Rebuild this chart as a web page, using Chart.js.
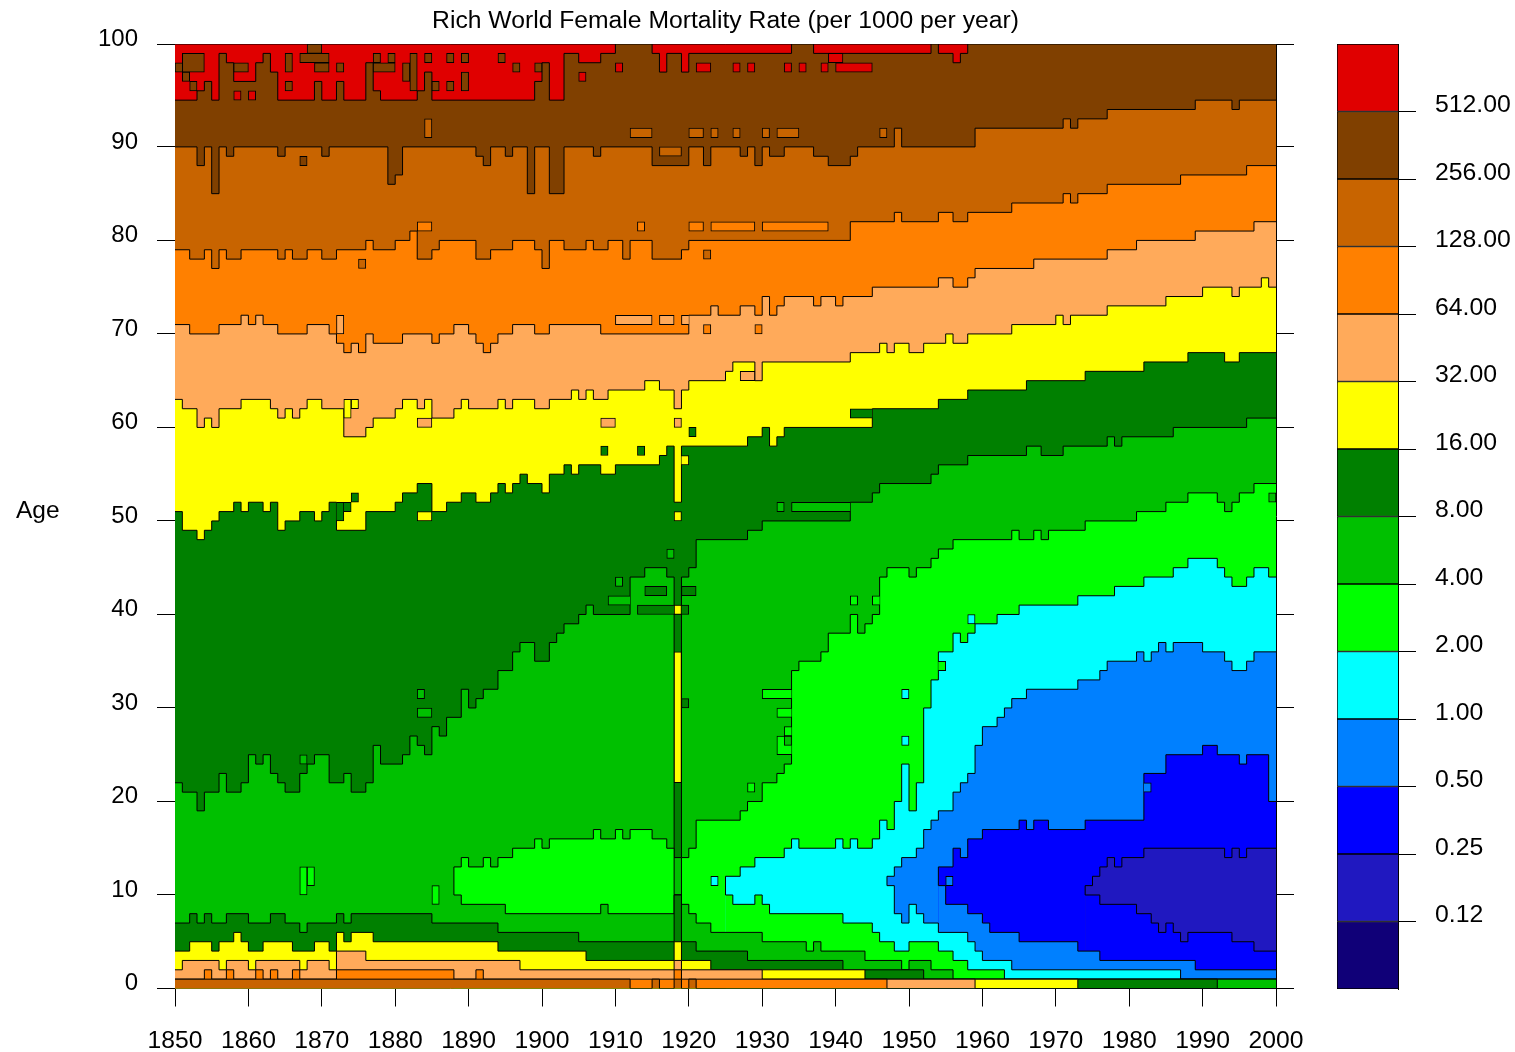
<!DOCTYPE html>
<html><head><meta charset="utf-8">
<style>html,body{margin:0;padding:0;background:#fff;width:1515px;height:1052px;overflow:hidden}
canvas{position:absolute;left:0;top:0}
#age{position:absolute;left:16px;top:496px;font:24.5px "Liberation Sans",Arial,sans-serif;color:#000}</style>
<script src="https://cdn.jsdelivr.net/npm/chart.js@4"></script>
</head><body>
<canvas id="main" width="1515" height="1052"></canvas>
<canvas id="bar" width="1515" height="1052"></canvas>
<div id="age">Age</div>
<script>
// Tick labels
const titleText = 'Rich World Female Mortality Rate (per 1000 per year)';
const yearTicks = [1850,1860,1870,1880,1890,1900,1910,1920,1930,1940,1950,1960,1970,1980,1990,2000];
const ageTicks  = [0,10,20,30,40,50,60,70,80,90,101];
const ageLabels = ['0','10','20','30','40','50','60','70','80','90','100'];
const legendLabels = ['0.12','0.25','0.50','1.00','2.00','4.00','8.00','16.00','32.00','64.00','128.00','256.00','512.00'];
const bandColors = ['#100078','#2018C0','#0000FF','#0080FF','#00FFFF','#00FF00','#00C000','#008000','#FFFF00','#FFAA5A','#FF8000','#C86400','#804000','#E00000'];

// Contours: [first year, age] change points of each level boundary
const cTop = [[1850,101]];
const c512 = [[1850,95],[1853,96],[1854,97],[1855,95],[1856,100],[1857,99],[1858,97],[1861,99],[1862,100],[1863,98],[1864,95],[1869,97],[1870,95],[1872,97],[1873,95],[1876,99],[1877,96],[1878,95],[1883,96],[1884,98],[1885,95],[1899,97],[1900,99],[1901,95],[1903,100],[1905,99],[1908,100],[1910,101],[1915,100],[1916,98],[1917,100],[1919,98],[1920,100],[1934,101],[1937,100],[1953,101],[1954,100],[1956,99],[1957,100],[1958,101]];
const c256 = [[1850,90],[1853,88],[1854,90],[1855,85],[1856,90],[1857,89],[1858,90],[1864,89],[1865,90],[1870,89],[1871,90],[1879,86],[1880,87],[1881,90],[1891,89],[1892,88],[1893,90],[1895,89],[1896,90],[1898,85],[1899,90],[1901,85],[1903,90],[1907,89],[1908,90],[1915,88],[1920,90],[1922,88],[1923,90],[1927,89],[1928,90],[1929,88],[1930,90],[1931,89],[1933,90],[1937,89],[1939,88],[1942,89],[1943,90],[1948,92],[1949,90],[1959,92],[1971,93],[1972,92],[1973,93],[1977,94],[1989,95],[1994,94],[1995,95]];
const c128 = [[1850,79],[1852,78],[1854,79],[1855,77],[1856,79],[1857,78],[1859,79],[1864,78],[1865,79],[1866,78],[1868,79],[1870,78],[1872,79],[1876,80],[1877,79],[1880,80],[1882,81],[1883,78],[1885,79],[1886,80],[1891,78],[1893,79],[1896,80],[1899,79],[1900,77],[1901,80],[1903,79],[1906,80],[1907,79],[1909,80],[1911,78],[1912,80],[1915,78],[1919,79],[1920,80],[1942,82],[1948,83],[1949,82],[1954,83],[1956,82],[1958,83],[1964,84],[1971,85],[1972,84],[1973,85],[1977,86],[1987,87],[1996,88]];
const c64 = [[1850,71],[1852,70],[1856,71],[1859,72],[1860,71],[1861,72],[1862,71],[1864,70],[1868,71],[1871,70],[1872,69],[1873,68],[1874,69],[1875,68],[1876,70],[1877,69],[1881,70],[1885,69],[1886,70],[1888,71],[1890,70],[1891,69],[1892,68],[1893,69],[1894,70],[1896,71],[1899,70],[1901,71],[1908,70],[1920,72],[1923,73],[1924,72],[1927,73],[1929,72],[1930,74],[1931,72],[1932,73],[1933,74],[1937,73],[1938,74],[1940,73],[1941,74],[1945,75],[1954,76],[1956,75],[1958,76],[1959,77],[1967,78],[1977,79],[1981,80],[1989,81],[1997,82]];
const c32 = [[1850,63],[1851,62],[1853,60],[1854,61],[1855,60],[1856,62],[1859,63],[1863,62],[1864,61],[1865,62],[1866,61],[1867,62],[1868,63],[1870,62],[1873,59],[1876,60],[1877,61],[1880,62],[1881,63],[1883,62],[1884,63],[1885,61],[1888,62],[1889,63],[1890,62],[1894,63],[1895,62],[1896,63],[1899,62],[1901,63],[1904,64],[1905,63],[1906,64],[1907,63],[1909,64],[1914,65],[1916,64],[1918,62],[1919,64],[1920,65],[1925,66],[1926,67],[1929,65],[1930,67],[1942,68],[1946,69],[1947,68],[1948,69],[1950,68],[1952,69],[1955,70],[1956,69],[1958,70],[1964,71],[1970,72],[1971,71],[1972,72],[1977,73],[1985,74],[1990,75],[1994,74],[1995,75],[1998,76],[1999,75]];
const c16 = [[1850,51],[1851,49],[1853,48],[1854,49],[1855,50],[1856,51],[1858,52],[1859,51],[1860,52],[1862,51],[1863,52],[1864,49],[1865,50],[1867,51],[1869,50],[1870,51],[1871,52],[1872,49],[1876,51],[1880,52],[1881,53],[1883,54],[1885,51],[1887,52],[1889,53],[1891,52],[1893,53],[1894,54],[1895,53],[1896,54],[1897,55],[1898,54],[1900,53],[1901,55],[1903,56],[1904,55],[1905,56],[1908,55],[1910,56],[1916,57],[1917,58],[1918,52],[1919,58],[1928,59],[1930,60],[1931,58],[1932,59],[1933,60],[1945,62],[1954,63],[1958,64],[1966,65],[1974,66],[1982,67],[1988,68],[1993,67],[1995,68]];
const c8 = [[1850,22],[1851,21],[1853,19],[1854,21],[1856,23],[1857,21],[1859,22],[1860,25],[1861,24],[1862,25],[1863,23],[1864,22],[1865,21],[1867,23],[1868,24],[1869,25],[1871,22],[1873,23],[1874,21],[1876,22],[1877,26],[1878,24],[1881,25],[1882,27],[1883,26],[1884,25],[1885,28],[1886,27],[1887,29],[1889,32],[1890,30],[1891,31],[1892,32],[1894,34],[1896,36],[1897,37],[1899,35],[1901,37],[1902,38],[1903,39],[1905,40],[1906,41],[1907,40],[1912,44],[1914,45],[1917,44],[1918,14],[1919,44],[1920,45],[1921,48],[1928,49],[1930,50],[1942,52],[1945,53],[1946,54],[1953,55],[1954,56],[1958,57],[1966,58],[1968,57],[1971,58],[1977,59],[1978,58],[1979,59],[1986,60],[1996,61]];
const u4 = [[1888,10],[1888,13],[1889,14],[1890,13],[1892,14],[1893,13],[1894,14],[1896,15],[1899,16],[1900,15],[1901,16],[1907,17],[1908,16],[1910,17],[1911,16],[1912,17],[1915,16],[1917,15],[1918,10],[1919,14],[1920,15],[1921,18],[1927,19],[1928,20],[1930,22],[1932,23],[1933,24],[1934,34],[1935,35],[1938,36],[1939,38],[1942,40],[1943,38],[1944,39],[1945,40],[1946,44],[1947,45],[1950,44],[1951,45],[1953,46],[1954,47],[1956,48],[1964,49],[1965,48],[1967,49],[1968,48],[1969,49],[1974,50],[1981,51],[1985,52],[1988,53],[1992,52],[1993,51],[1994,52],[1995,53],[1997,54]];
const u2 = [[1925,10],[1925,12],[1927,13],[1929,14],[1933,15],[1934,16],[1935,15],[1940,16],[1941,15],[1942,16],[1943,15],[1945,16],[1946,18],[1947,17],[1948,20],[1949,24],[1950,19],[1951,22],[1952,30],[1953,33],[1954,36],[1956,38],[1957,37],[1958,38],[1959,39],[1962,40],[1965,41],[1973,42],[1978,43],[1982,44],[1986,45],[1988,46],[1992,45],[1993,44],[1994,43],[1996,44],[1997,45],[1999,44]];
const u1 = [[1947,11],[1947,12],[1948,13],[1949,14],[1951,15],[1952,17],[1953,18],[1954,19],[1956,21],[1957,22],[1958,23],[1959,26],[1960,28],[1962,29],[1963,30],[1964,31],[1966,32],[1973,33],[1976,34],[1977,35],[1981,36],[1982,35],[1983,36],[1984,37],[1985,36],[1986,37],[1990,36],[1993,35],[1994,34],[1996,35],[1997,36]];
const u05 = [[1954,11],[1954,13],[1956,15],[1957,14],[1958,16],[1960,17],[1965,18],[1966,17],[1967,18],[1969,17],[1974,18],[1982,23],[1985,25],[1990,26],[1992,25],[1995,24],[1996,25],[1999,20]];
const u025 = [[1974,10],[1974,11],[1975,12],[1976,13],[1977,14],[1978,13],[1979,14],[1982,15],[1993,14],[1994,15],[1995,14],[1996,15]];
const d025 = [[1974,10],[1976,9],[1981,8],[1983,7],[1984,6],[1985,7],[1986,6],[1987,5],[1988,6],[1994,5],[1997,4]];
const d05 = [[1954,11],[1955,9],[1958,8],[1960,7],[1961,6],[1965,5],[1973,4],[1976,3],[1989,2]];
const d1 = [[1947,11],[1948,8],[1949,7],[1950,9],[1951,8],[1952,7],[1954,6],[1958,5],[1959,4],[1960,3],[1964,2],[1987,1]];
const d2 = [[1925,10],[1926,9],[1929,10],[1930,9],[1931,8],[1941,7],[1945,6],[1946,5],[1948,4],[1950,5],[1954,4],[1956,3],[1958,2],[1963,1]];
const d4 = [[1888,10],[1889,9],[1895,8],[1908,9],[1909,8],[1918,10],[1919,9],[1920,8],[1921,7],[1923,6],[1930,5],[1936,4],[1937,5],[1938,4],[1944,3],[1949,2],[1950,3],[1953,2],[1956,1]];
const d8 = [[1850,7],[1852,8],[1853,7],[1854,8],[1855,7],[1857,8],[1860,7],[1863,8],[1865,7],[1867,6],[1868,7],[1872,8],[1873,7],[1874,8],[1885,7],[1894,6],[1905,5],[1918,10],[1919,5],[1921,4],[1928,3],[1941,2],[1952,1],[1992,0]];
const d16 = [[1850,4],[1852,5],[1855,4],[1856,5],[1858,6],[1859,5],[1860,4],[1862,5],[1866,4],[1869,5],[1871,4],[1872,6],[1873,5],[1874,6],[1877,5],[1894,4],[1906,3],[1918,5],[1919,3],[1923,2],[1944,1],[1973,0]];
const d32 = [[1850,2],[1851,3],[1856,2],[1857,3],[1860,2],[1861,3],[1867,2],[1868,3],[1871,2],[1872,4],[1876,3],[1897,2],[1918,3],[1919,2],[1930,1],[1959,0]];
const d64 = [[1850,1],[1854,2],[1855,1],[1857,2],[1858,1],[1861,2],[1862,1],[1863,2],[1864,1],[1866,2],[1867,1],[1872,2],[1888,1],[1891,2],[1892,1],[1918,2],[1919,1],[1947,0]];
const d128 = [[1850,1],[1912,0],[1915,1],[1916,0],[1918,1],[1919,0],[1920,1],[1921,0]];

// Isolated patches: [from year, to year, from age, to age]
const isleDkBrown = [[1850,1852,98,99],[1851,1854,98,100],[1851,1852,97,98],[1852,1853,96,97],[1858,1860,98,99],[1865,1866,98,100],[1865,1866,96,97],[1867,1871,99,100],[1868,1870,100,101],[1869,1871,98,99],[1872,1873,98,99],[1877,1880,98,99],[1877,1878,99,100],[1879,1880,99,100],[1881,1882,97,99],[1882,1883,96,100],[1884,1885,99,100],[1885,1886,96,97],[1887,1888,99,100],[1887,1888,96,97],[1889,1890,99,100],[1889,1890,96,98],[1894,1895,99,100],[1896,1897,98,99],[1899,1900,98,99],[1867,1868,88,89]];
const isleRed = [[1858,1859,95,96],[1860,1861,95,96],[1905,1906,97,98],[1910,1911,98,99],[1921,1923,98,99],[1926,1927,98,99],[1928,1929,98,99],[1933,1934,98,99],[1935,1936,98,99],[1938,1939,98,99],[1939,1941,99,100],[1940,1945,98,99]];
const isle128 = [[1884,1885,91,93],[1912,1915,91,92],[1920,1922,91,92],[1923,1924,91,92],[1926,1927,91,92],[1930,1931,91,92],[1932,1935,91,92],[1946,1947,91,92],[1916,1919,89,90],[1875,1876,77,78],[1922,1923,78,79]];
const isleOrange = [[1883,1885,81,82],[1913,1914,81,82],[1920,1922,81,82],[1923,1929,81,82],[1930,1939,81,82],[1922,1923,70,71],[1929,1930,70,71]];
const islePeach = [[1872,1873,70,72],[1910,1915,71,72],[1916,1918,71,72],[1883,1885,60,61],[1908,1910,60,61],[1918,1919,60,61],[1927,1929,65,66]];
const islePeachOpenRight = [[1919,1920,71,72]];
const isleDkGreen = [[1874,1875,52,53],[1908,1909,57,58],[1913,1914,57,58],[1920,1921,59,60],[1913,1920,40,41],[1914,1917,42,43],[1919,1921,42,43],[1919,1920,30,31]];
const isleDkGreenOpenLeft = [[1872,1873,50,52],[1873,1874,51,52]];
const isleDkGreenOpenRight = [[1942,1945,61,62]];
const isleYellow = [[1873,1874,61,63],[1874,1875,62,63],[1883,1885,50,51],[1918,1919,50,51],[1918,1919,40,41],[1918,1919,22,36]];
const isleYellowOpenLeft = [[1919,1920,56,57]];
const isleBright = [[1867,1868,10,13],[1868,1869,11,13],[1885,1886,9,11],[1928,1929,21,22],[1942,1943,41,42]];
const isleBrightOpenRight = [[1930,1934,31,32],[1932,1934,29,30],[1932,1934,25,27],[1933,1934,27,28],[1945,1946,41,42]];
const isleBrightOpenLeft = [[1954,1955,34,35]];
const isleMid = [[1867,1868,24,25],[1883,1884,31,32],[1883,1885,29,30],[1910,1911,43,44],[1917,1918,46,47],[1932,1933,51,52],[1999,2000,52,53],[1933,1934,26,27]];
const isleMidOpenRight = [[1909,1912,41,42],[1934,1942,51,52]];
const isleCyan = [[1923,1924,11,12],[1949,1950,31,32],[1949,1950,26,27],[1958,1959,39,40]];
const isleBlue = [[1955,1956,11,12]];
const isleBlueOpenLeft = [[1982,1983,21,22]];

const C = {navy:bandColors[0],indigo:bandColors[1],blue:bandColors[2],sky:bandColors[3],cyan:bandColors[4],bright:bandColors[5],mid:bandColors[6],dk:bandColors[7],yellow:bandColors[8],peach:bandColors[9],orange:bandColors[10],b128:bandColors[11],b256:bandColors[12],red:bandColors[13]};
const FONT = {family:'"Liberation Sans", Arial, sans-serif', size:24};
const plotLeft = 175, plotRight = 1276, plotBottom = 988.5;
const pxPerYear = (plotRight - plotLeft) / 150;

// From the top of the plot down: contour and the colour that lies under it
const layers = [[cTop,C.red],[c512,C.b256],[c256,C.b128],[c128,C.orange],[c64,C.peach],[c32,C.yellow],[c16,C.dk],[c8,C.mid],[u4,C.bright],[u2,C.cyan],[u1,C.sky],[u05,C.blue],[u025,C.indigo],[d025,C.blue],[d05,C.sky],[d1,C.cyan],[d2,C.bright],[d4,C.mid],[d8,C.dk],[d16,C.yellow],[d32,C.peach],[d64,C.orange],[d128,C.b128]];

const datasets = [];
layers.forEach(([pts,color],i)=>{
  const data = pts.map(([x,y])=>({x,y}));
  data.push({x:2000,y:pts[pts.length-1][1]});
  datasets.push({type:'line',data,stepped:true,fill:'start',backgroundColor:color,
    borderColor:'#000',borderWidth:1,pointRadius:0,tension:0,order:layers.length-i,xAxisID:'x',yAxisID:'y'});
});
let ord = -1;
const closed = 1, openL = {top:1,bottom:1,left:0,right:1}, openR = {top:1,bottom:1,left:1,right:0};
[[isleDkBrown,C.b256,closed],[isleRed,C.red,closed],[isle128,C.b128,closed],[isleOrange,C.orange,closed],[islePeach,C.peach,closed],[islePeachOpenRight,C.peach,openR],
 [isleDkGreen,C.dk,closed],[isleDkGreenOpenLeft,C.dk,openL],[isleDkGreenOpenRight,C.dk,openR],[isleYellow,C.yellow,closed],[isleYellowOpenLeft,C.yellow,openL],
 [isleBright,C.bright,closed],[isleBrightOpenRight,C.bright,openR],[isleBrightOpenLeft,C.bright,openL],[isleMid,C.mid,closed],[isleMidOpenRight,C.mid,openR],
 [isleCyan,C.cyan,closed],[isleBlue,C.sky,closed],[isleBlueOpenLeft,C.sky,openL]].forEach(([list,color,bw])=>{
  list.forEach(([x0,x1,a0,a1])=>{
    datasets.push({type:'bar',data:[{x:(x0+x1)/2,y:[a0,a1]}],grouped:false,barThickness:(x1-x0)*pxPerYear,
      backgroundColor:color,borderColor:'#000',borderWidth:bw,borderSkipped:false,order:ord--,xAxisID:'x',yAxisID:'y'});
  });
});

const tickGrid = {drawOnChartArea:false,drawTicks:true,tickLength:18,color:'#000',lineWidth:1};
new Chart(document.getElementById('main'),{
  type:'line',
  data:{datasets},
  options:{
    responsive:false,animation:false,devicePixelRatio:1,
    layout:{padding:0},
    plugins:{legend:{display:false},tooltip:{enabled:false},
      title:{display:true,text:titleText,fullSize:false,color:'#000',font:{...FONT,size:24.7,weight:'normal',lineHeight:1.2},padding:{top:6,bottom:8.4}}},
    scales:{
      x:{type:'linear',position:'bottom',min:1850,max:2000,offset:false,
        afterBuildTicks:s=>{s.ticks=yearTicks.map(value=>({value}));},
        afterFit:s=>{s.height=1052-plotBottom;},
        grid:{...tickGrid,offset:false},border:{color:'#000',width:1},
        ticks:{font:{...FONT,size:24.7},color:'#000',padding:19.5,maxRotation:0,autoSkip:false,callback:v=>String(v)}},
      xTop:{type:'linear',position:'top',min:1850,max:2000,offset:false,
        afterFit:s=>{s.height=0;},
        grid:{drawOnChartArea:false,drawTicks:false},border:{color:'#000',width:1},ticks:{display:false}},
      y:{type:'linear',position:'left',min:0,max:101,
        afterBuildTicks:s=>{s.ticks=ageTicks.map(value=>({value}));},
        afterFit:s=>{s.width=plotLeft;},
        grid:tickGrid,border:{color:'#000',width:1},
        ticks:{font:FONT,color:'#000',padding:19,labelOffset:-5,autoSkip:false,callback:(v,i)=>ageLabels[i]}},
      yRight:{type:'linear',position:'right',min:0,max:101,
        afterBuildTicks:s=>{s.ticks=ageTicks.map(value=>({value}));},
        afterFit:s=>{s.width=1515-plotRight;},
        grid:tickGrid,border:{color:'#000',width:1},ticks:{display:false}}
    }
  }
});

// Colour scale
const legendTicks = legendLabels.map((_,i)=>i+1);
new Chart(document.getElementById('bar'),{
  type:'bar',
  data:{labels:[''],datasets:bandColors.map(c=>({data:[1],backgroundColor:c,borderColor:'#000',borderWidth:{top:1,bottom:1,left:1,right:0},borderSkipped:false,barPercentage:1,categoryPercentage:1,stack:'s'}))},
  options:{
    responsive:false,animation:false,devicePixelRatio:1,
    layout:{padding:{left:1337,top:44,bottom:63,right:0}},
    plugins:{legend:{display:false},tooltip:{enabled:false},title:{display:false}},
    scales:{
      x:{display:false,stacked:true,offset:true},
      y:{position:'right',min:0,max:14,stacked:true,
        afterBuildTicks:s=>{s.ticks=legendTicks.map(value=>({value}));},
        afterFit:s=>{s.width=117;},
        grid:tickGrid,border:{color:'#000',width:1},
        ticks:{font:{...FONT,size:24.8},color:'#000',padding:19,labelOffset:-6,autoSkip:false,callback:(v,i)=>legendLabels[i]}}
    }
  }
});
</script>
</body></html>
